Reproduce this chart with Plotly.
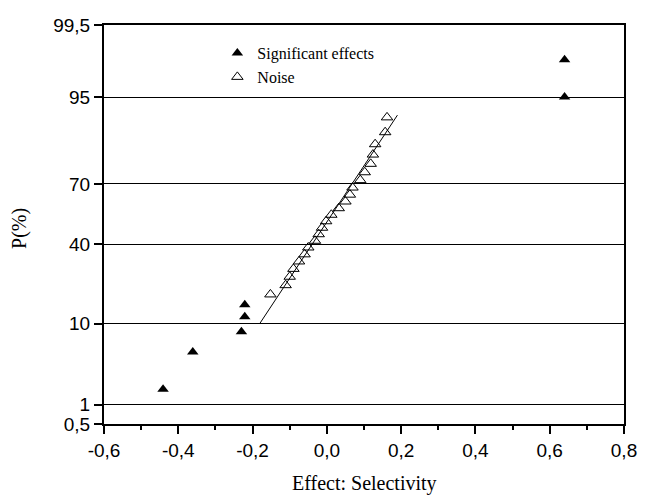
from statistics import NormalDist
import plotly.graph_objects as go

# ---- data ----
sig_effect = [-0.441, -0.361, -0.230, -0.221, -0.221, 0.640, 0.640]
sig_p = [1.67, 5.0, 8.33, 11.67, 15.0, 95.0, 98.33]

noise_effect = [-0.152, -0.111, -0.100, -0.090, -0.075, -0.060, -0.050, -0.032,
                -0.022, -0.013, -0.002, 0.012, 0.032, 0.050, 0.062, 0.069,
                0.090, 0.102, 0.118, 0.124, 0.130, 0.157, 0.162]
noise_p = [18.33, 21.67, 25.0, 28.33, 31.67, 35.0, 38.33, 41.67, 45.0, 48.33,
           51.67, 55.0, 58.33, 61.67, 65.0, 68.33, 71.67, 75.0, 78.33, 81.67,
           85.0, 88.33, 91.67]

fit_effect = [-0.181, 0.190]
fit_p = [10.0, 92.1]

y_tick_p = [0.5, 1, 10, 40, 70, 95, 99.5]
y_tick_text = ["0,5", "1", "10", "40", "70", "95", "99,5"]
x_tick_vals = [-0.6, -0.4, -0.2, 0.0, 0.2, 0.4, 0.6, 0.8]
x_tick_text = ["-0,6", "-0,4", "-0,2", "0,0", "0,2", "0,4", "0,6", "0,8"]

nd = NormalDist()


def probit(p):
    return nd.inv_cdf(p / 100.0)


fig = go.Figure()
fig.add_trace(go.Scatter(
    x=fit_effect, y=[probit(p) for p in fit_p], mode="lines",
    line=dict(color="black", width=1), showlegend=False, hoverinfo="skip"))
fig.add_trace(go.Scatter(
    x=sig_effect, y=[probit(p) for p in sig_p], mode="markers",
    name="Significant effects",
    marker=dict(symbol="triangle-up", size=10, color="black",
                line=dict(width=0))))
fig.add_trace(go.Scatter(
    x=noise_effect, y=[probit(p) for p in noise_p], mode="markers",
    name="Noise",
    marker=dict(symbol="triangle-up-open", size=10, color="black",
                line=dict(width=1, color="black"))))

axis_font = dict(family="Liberation Sans, Arial", size=19, color="black")

fig.update_xaxes(
    range=[-0.6, 0.8], tickvals=x_tick_vals, ticktext=x_tick_text,
    ticks="outside", ticklen=8, tickwidth=1.5, tickcolor="black",
    minor=dict(dtick=0.1, tick0=-0.6, ticks="outside", ticklen=4,
               tickwidth=1.5, tickcolor="black", showgrid=False),
    showgrid=False, zeroline=False, showline=True, linecolor="black",
    linewidth=2, mirror=True, tickfont=axis_font)
fig.update_yaxes(
    range=[probit(0.5), probit(99.5)],
    tickvals=[probit(p) for p in y_tick_p], ticktext=y_tick_text,
    ticks="outside", ticklen=8, tickwidth=1.5, tickcolor="black",
    showgrid=True, gridcolor="black", gridwidth=1,
    zeroline=False, showline=True, linecolor="black", linewidth=2,
    mirror=True, tickfont=axis_font)

fig.update_layout(
    width=649, height=499,
    margin=dict(l=104, r=18, t=25, b=75),
    paper_bgcolor="white", plot_bgcolor="white",
    legend=dict(x=0.218, y=0.972, xanchor="left", yanchor="top",
                bgcolor="rgba(0,0,0,0)", tracegroupgap=0,
                font=dict(family="Liberation Serif, Times New Roman",
                          size=16, color="black")),
    annotations=[
        dict(text="Effect: Selectivity", xref="paper", yref="paper",
             x=0.5, y=0, yshift=-73, showarrow=False,
             font=dict(family="Liberation Serif, Times New Roman", size=20,
                       color="black")),
        dict(text="P(%)", xref="paper", yref="paper", x=0, xshift=-98,
             y=0.49, textangle=-90, showarrow=False,
             font=dict(family="Liberation Serif, Times New Roman", size=20,
                       color="black")),
    ],
)

fig.write_html("out.html")
